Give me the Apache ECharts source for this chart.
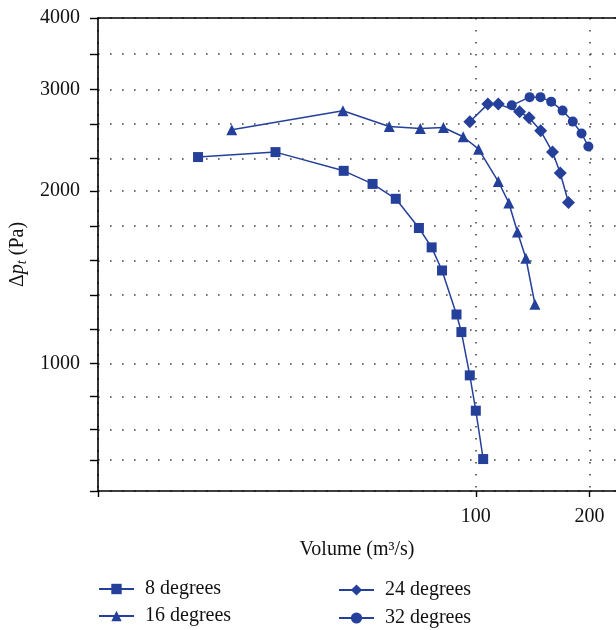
<!DOCTYPE html>
<html>
<head>
<meta charset="utf-8">
<script src="https://cdn.jsdelivr.net/npm/echarts@6/dist/echarts.min.js"></script>
<style>
html,body{margin:0;padding:0;background:#fff;}
#chart{width:616px;height:630px;}
</style>
</head>
<body>
<div id="chart"></div>
<script>
// ---- data (Volume m3/s, Δp_t Pa) ----
const names = ['8 degrees', '16 degrees', '24 degrees', '32 degrees'];
const vol8  = [18.4, 29.5, 44.7, 53.3, 61.4, 70.7, 76.4, 81.4, 88.9, 91.6, 96.4, 100.0, 104.6];
const dp8   = [2290, 2336, 2167, 2056, 1937, 1723, 1594, 1453, 1218, 1135, 954, 828, 682];
const vol16 = [22.6, 44.5, 59.0, 71.3, 82.1, 92.6, 101.7, 114.7, 122.3, 128.9, 135.7, 143.4];
const dp16  = [2555, 2757, 2588, 2568, 2578, 2484, 2364, 2076, 1905, 1695, 1526, 1269];
const vol24 = [96.4, 107.6, 114.7, 130.6, 138.4, 148.5, 159.6, 167.3, 175.9];
const dp24  = [2638, 2832, 2832, 2746, 2681, 2544, 2336, 2148, 1909];
const vol32 = [124.5, 138.8, 148.3, 158.3, 169.7, 180.6, 190.5, 198.6];
const dp32  = [2818, 2912, 2912, 2860, 2759, 2640, 2517, 2389];

// ---- axis ticks ----
const xMin = 10, xMax = 235;
const yMin = 600, yMax = 4000;
const xLabelValues = [100, 200];
const xTickValues = [10, 100, 200];
const yLabelValues = [1000, 2000, 3000, 4000];
const yTickValues = [600, 679, 768, 877, 1000, 1146, 1317, 1511, 1737, 2000, 2277, 2617, 3000, 3464, 4000];

const FONT = '"Liberation Serif", "DejaVu Serif", serif';
const BLUE = '#24409a';
const L = Math.log10;
const pairs = (xs, ys) => xs.map((x, i) => [x, ys[i]]);
const nearest = (arr, v) => arr.reduce((b, a) => Math.abs(L(a) - v) < Math.abs(L(b) - v) ? a : b);

const dotted = { color: '#444', width: 1.6, type: [1.6, 10.4] };

function mk(name, xs, ys, symbol, size) {
  return {
    name, type: 'line', xAxisIndex: 1, yAxisIndex: 1,
    data: pairs(xs, ys), symbol, symbolSize: size, showAllSymbol: true,
    lineStyle: { color: BLUE, width: 1.5 },
    itemStyle: { color: BLUE },
    emphasis: { disabled: true }
  };
}

const chart = echarts.init(document.getElementById('chart'), null, { renderer: 'canvas' });
chart.setOption({
  animation: false,
  backgroundColor: '#fff',
  textStyle: { fontFamily: FONT },
  grid: { left: 98, right: 0, top: 18, bottom: 139, containLabel: false },
  xAxis: [
    {
      type: 'value', min: L(xMin), max: L(xMax), position: 'bottom',
      name: 'Volume (m³/s)', nameLocation: 'middle', nameGap: 49,
      nameTextStyle: { fontFamily: FONT, fontSize: 20, color: '#111' },
      axisLine: { show: true, lineStyle: { color: '#000', width: 1.6 } },
      axisTick: { show: true, inside: false, length: 6, customValues: xTickValues.map(L), lineStyle: { color: '#000', width: 1.4 } },
      axisLabel: { show: true, customValues: xLabelValues.map(L), margin: 16, fontFamily: FONT, fontSize: 20, color: '#111',
        formatter: v => String(nearest(xLabelValues, v)) },
      splitLine: { show: true, lineStyle: dotted }
    },
    {
      type: 'log', logBase: 10, min: xMin, max: xMax, position: 'top',
      axisLine: { show: true, lineStyle: { color: '#000', width: 1.6 } },
      axisTick: { show: false }, axisLabel: { show: false }, splitLine: { show: false }
    }
  ],
  yAxis: [
    {
      type: 'value', min: L(yMin), max: L(yMax), position: 'left',
      name: '{n|Δ}{i|p}{s|t}{n| (Pa)}', nameLocation: 'middle', nameGap: 68, nameRotate: 90,
      nameTextStyle: { fontFamily: FONT, fontSize: 20, color: '#111',
        rich: {
          n: { fontFamily: FONT, fontSize: 20, color: '#111' },
          i: { fontFamily: FONT, fontSize: 20, fontStyle: 'italic', color: '#111' },
          s: { fontFamily: FONT, fontSize: 14, fontStyle: 'italic', color: '#111', padding: [8, 0, 0, 0] }
        } },
      axisLine: { show: true, lineStyle: { color: '#000', width: 1.6 } },
      axisTick: { show: true, inside: false, length: 8, customValues: yTickValues.map(L), lineStyle: { color: '#000', width: 1.4 } },
      axisLabel: { show: true, customValues: yLabelValues.map(L), margin: 18, fontFamily: FONT, fontSize: 20, color: '#111',
        formatter: v => String(nearest(yLabelValues, v)) },
      splitLine: { show: true, lineStyle: dotted }
    },
    {
      type: 'log', logBase: 10, min: yMin, max: yMax,
      axisLine: { show: false }, axisTick: { show: false }, axisLabel: { show: false }, splitLine: { show: false }
    }
  ],
  legend: [
    {
      data: [names[0], names[1]], orient: 'vertical', left: 98, top: 579, padding: 0, height: 51,
      itemWidth: 35, itemHeight: 13, itemGap: 7,
      textStyle: { fontFamily: FONT, fontSize: 20, color: '#111', lineHeight: 20, padding: [0, 0, 0, 6] },
      selectedMode: false
    },
    {
      data: [names[2], names[3]], orient: 'vertical', left: 338, top: 580, padding: 0, height: 50,
      itemWidth: 35, itemHeight: 14, itemGap: 8,
      textStyle: { fontFamily: FONT, fontSize: 20, color: '#111', lineHeight: 20, padding: [0, 0, 0, 6] },
      selectedMode: false
    }
  ],
  series: [
    mk(names[0], vol8, dp8, 'rect', 10),
    mk(names[1], vol16, dp16, 'triangle', 11),
    mk(names[2], vol24, dp24, 'diamond', 13),
    mk(names[3], vol32, dp32, 'circle', 10)
  ]
});
</script>
</body>
</html>
